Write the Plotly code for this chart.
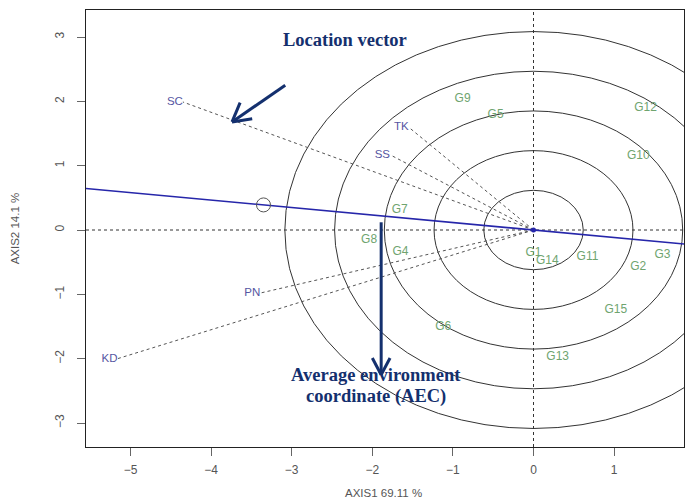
import plotly.graph_objects as go

# Environment vector end points (PC1, PC2)
env_names = ["SC", "TK", "SS", "PN", "KD"]
env_x = [-4.35, -1.55, -1.78, -3.39, -5.16]
env_y = [1.99, 1.60, 1.17, -0.98, -2.00]

# Genotype scores (PC1, PC2)
gen_names = ["G1", "G2", "G3", "G4", "G5", "G6", "G7", "G8", "G9", "G10",
             "G11", "G12", "G13", "G14", "G15"]
gen_x = [0.00, 1.30, 1.60, -1.65, -0.47, -1.12, -1.66, -2.04, -0.88, 1.30,
         0.67, 1.39, 0.30, 0.17, 1.02]
gen_y = [-0.36, -0.58, -0.39, -0.34, 1.79, -1.50, 0.31, -0.16, 2.04, 1.15,
         -0.42, 1.90, -1.98, -0.48, -1.24]

# Average environment (small circle on the AEA line)
aea_x = [-3.35]
aea_y = [0.39]
aea_slope = aea_y[0] / aea_x[0]

# Concentric rings around the biplot origin
ring_radii = [0.617, 1.234, 1.851, 2.468, 3.085]

x_range = [-5.552, 1.867]
y_range = [-3.373, 3.42]
x_ticks = [-5, -4, -3, -2, -1, 0, 1]
y_ticks = [-3, -2, -1, 0, 1, 2, 3]

ENV_COLOR = "#5656a2"
GEN_COLOR = "#6fa46f"
NAVY = "#14306e"
LINE_BLUE = "#2626aa"

fig = go.Figure()

# Dotted environment vectors from the origin
for ex, ey in zip(env_x, env_y):
    fig.add_trace(go.Scatter(x=[0, ex], y=[0, ey], mode="lines",
                             line=dict(color="#555555", width=1, dash="dot"),
                             hoverinfo="skip", showlegend=False))

# Average environment axis through the origin
fig.add_trace(go.Scatter(x=x_range, y=[aea_slope * x_range[0], aea_slope * x_range[1]],
                         mode="lines", line=dict(color=LINE_BLUE, width=1.6),
                         hoverinfo="skip", showlegend=False))
fig.add_trace(go.Scatter(x=aea_x, y=aea_y, mode="markers",
                         marker=dict(symbol="circle-open", size=14,
                                     color="#555555", line=dict(width=1)),
                         hoverinfo="skip", showlegend=False))
fig.add_trace(go.Scatter(x=[0], y=[0], mode="markers",
                         marker=dict(size=5, color=LINE_BLUE),
                         hoverinfo="skip", showlegend=False))

# Environment labels
fig.add_trace(go.Scatter(x=env_x, y=env_y, mode="text", text=env_names,
                         textposition="middle left",
                         textfont=dict(family="Liberation Sans, Arial", size=11.5,
                                       color=ENV_COLOR),
                         hoverinfo="skip", showlegend=False))

# Genotype labels
fig.add_trace(go.Scatter(x=gen_x, y=gen_y, mode="text", text=gen_names,
                         textposition="middle center",
                         textfont=dict(family="Liberation Sans, Arial", size=12,
                                       color=GEN_COLOR),
                         hoverinfo="skip", showlegend=False))

shapes = []
for r in ring_radii:
    shapes.append(dict(type="circle", xref="x", yref="y", x0=-r, x1=r, y0=-r, y1=r,
                       line=dict(color="#333333", width=1), layer="below"))
# Dotted reference axes
shapes.append(dict(type="line", xref="x", yref="paper", x0=0, x1=0, y0=0, y1=1,
                   line=dict(color="#333333", width=1, dash="dot"), layer="below"))
shapes.append(dict(type="line", xref="paper", yref="y", x0=0, x1=1, y0=0, y1=0,
                   line=dict(color="#333333", width=1, dash="dot"), layer="below"))

# Callout arrows with open heads
arrow_segments = [
    ((-3.08, 2.25), (-3.74, 1.68)),
    ((-3.74, 1.68), (-3.64, 1.98)),
    ((-3.74, 1.68), (-3.49, 1.73)),
    ((-1.89, 0.12), (-1.89, -2.25)),
    ((-1.89, -2.25), (-2.00, -1.99)),
    ((-1.89, -2.25), (-1.78, -1.99)),
]
for (ax0, ay0), (ax1, ay1) in arrow_segments:
    shapes.append(dict(type="line", xref="x", yref="y", x0=ax0, y0=ay0, x1=ax1, y1=ay1,
                       line=dict(color=NAVY, width=3)))

serif = "Liberation Serif, Times New Roman, serif"
sans_title = dict(family="Liberation Sans, Arial", size=11.5, color="#555555")
annotations = [
    dict(x=-2.34, y=2.95, xref="x", yref="y", text="<b>Location vector</b>",
         showarrow=False, font=dict(family=serif, size=18.5, color=NAVY)),
    dict(x=-1.96, y=-2.26, xref="x", yref="y", text="<b>Average environment</b>",
         showarrow=False, font=dict(family=serif, size=18.5, color=NAVY)),
    dict(x=-1.96, y=-2.59, xref="x", yref="y", text="<b>coordinate (AEC)</b>",
         showarrow=False, font=dict(family=serif, size=18.5, color=NAVY)),
    # Axis titles
    dict(x=0.498, y=-0.105, xref="paper", yref="paper",
         xanchor="center", yanchor="middle",
         text="AXIS1 69.11 %", showarrow=False, font=sans_title),
    dict(x=-0.119, y=0.5, xref="paper", yref="paper", textangle=-90,
         xanchor="center", yanchor="middle",
         text="AXIS2 14.1 %", showarrow=False, font=sans_title),
]

axis_font = dict(family="Liberation Sans, Arial", size=12, color="#555555")
fig.update_layout(
    width=687, height=501,
    margin=dict(l=86, r=3, t=10, b=54),
    paper_bgcolor="white", plot_bgcolor="white",
    shapes=shapes, annotations=annotations,
    xaxis=dict(range=x_range, tickvals=x_ticks, ticks="outside", ticklen=8,
               tickcolor="#666666", tickfont=axis_font, showgrid=False,
               ticklabelstandoff=4, automargin=False,
               zeroline=False, showline=True, mirror=True, linecolor="#222222",
               linewidth=1),
    yaxis=dict(range=y_range, tickvals=y_ticks, ticks="outside", ticklen=8,
               tickcolor="#666666", tickfont=axis_font, tickangle=-90,
               ticklabelstandoff=8, automargin=False,
               showgrid=False, zeroline=False, showline=True, mirror=True,
               linecolor="#222222", linewidth=1),
)

fig.write_html("out.html")
